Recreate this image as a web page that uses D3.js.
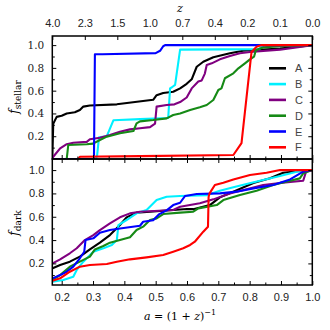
<!DOCTYPE html>
<html><head><meta charset="utf-8">
<script src="https://cdn.jsdelivr.net/npm/d3@7"></script>
<style>body{margin:0;background:#fff}svg{display:block}</style>
</head><body>
<svg id="c" width="330" height="330"></svg>
<script>
// ---- data ----
const seriesNames = ["A","B","C","D","E","F"];
const seriesColors = ["#000000","#00f0ff","#800080","#168a16","#0000ff","#ff0000"];
const xTicks = [0.2,0.3,0.4,0.5,0.6,0.7,0.8,0.9,1.0];
const zTickLabels = ["4.0","2.3","1.5","1.0","0.7","0.4","0.2","0.1","0.0"];
const yTicks = [0.2,0.4,0.6,0.8,1.0];

// stellar (top panel)
const aStellarA = [0.17,0.173,0.184,0.200,0.216,0.242,0.258,0.269,0.290,0.376,0.492,0.503,0.524,0.556,0.578,0.599,0.615,0.631,0.652,0.684,0.737,0.779,0.897,1.0];
const fStellarA = [0,0.31,0.37,0.38,0.40,0.41,0.43,0.46,0.47,0.48,0.52,0.56,0.58,0.59,0.62,0.66,0.70,0.81,0.854,0.893,0.928,0.95,0.97,1.0];
const aStellarB = [0.309,0.313,0.319,0.344,0.365,0.45,0.540,0.546,0.552,0.562,0.578,0.83,0.845,1.0];
const fStellarB = [0,0.03,0.19,0.20,0.34,0.35,0.36,0.62,0.63,0.65,0.96,0.965,1.0,1.0];
const aStellarC = [0.17,0.173,0.195,0.216,0.237,0.280,0.290,0.322,0.354,0.386,0.418,0.450,0.482,0.498,0.503,0.535,0.560,0.578,0.599,0.615,0.636,0.647,0.657,0.663,0.679,0.705,0.737,0.769,0.801,0.897,1.0];
const fStellarC = [0,0.02,0.094,0.13,0.143,0.15,0.173,0.187,0.21,0.24,0.26,0.27,0.28,0.31,0.46,0.474,0.48,0.50,0.54,0.62,0.68,0.69,0.75,0.825,0.84,0.875,0.904,0.928,0.94,0.96,1.0];
const aStellarD = [0.17,0.216,0.221,0.28,0.30,0.322,0.344,0.386,0.429,0.439,0.45,0.492,0.535,0.556,0.578,0.61,0.641,0.663,0.684,0.70,0.71,0.721,0.748,0.764,0.785,0.801,0.814,0.82,0.843,0.897,1.0];
const fStellarD = [0,0,0.123,0.13,0.135,0.167,0.196,0.226,0.246,0.313,0.33,0.342,0.357,0.386,0.40,0.43,0.454,0.474,0.518,0.606,0.62,0.709,0.752,0.796,0.84,0.875,0.898,0.957,0.98,0.99,1.0];
const aStellarE = [0.17,0.303,0.306,0.33,0.50,0.514,0.524,0.53,1.0];
const fStellarE = [0,0,0.92,0.92,0.93,0.95,0.99,1.0,1.0];
const aStellarF = [0.253,0.258,0.45,0.748,0.774,0.806,0.822,0.838,1.0];
const fStellarF = [0,0.02,0.025,0.035,0.14,0.94,0.985,1.0,1.0];

// dark (bottom panel)
const aDarkA = [0.171,0.195,0.226,0.258,0.29,0.322,0.354,0.386,0.407,0.439,0.482,0.556,0.60,0.62,0.673,0.705,0.748,0.812,0.865,0.907,0.95,1.0];
const fDarkA = [0.158,0.186,0.215,0.258,0.32,0.378,0.443,0.529,0.595,0.635,0.643,0.658,0.667,0.665,0.70,0.766,0.815,0.89,0.93,0.977,0.99,1.0];
const aDarkB = [0.171,0.205,0.237,0.248,0.269,0.301,0.333,0.36,0.376,0.381,0.407,0.439,0.471,0.503,0.535,0.578,0.663,0.705,0.748,0.79,0.843,0.897,0.95,1.0];
const fDarkB = [0.043,0.058,0.086,0.144,0.215,0.30,0.329,0.358,0.40,0.529,0.572,0.629,0.658,0.743,0.772,0.778,0.785,0.823,0.852,0.88,0.915,0.949,0.986,1.0];
const aDarkC = [0.171,0.195,0.226,0.248,0.274,0.301,0.322,0.354,0.386,0.418,0.45,0.556,0.578,0.641,0.684,0.737,0.79,0.843,0.897,0.971,0.98,1.0];
const fDarkC = [0.20,0.235,0.287,0.33,0.40,0.443,0.486,0.543,0.595,0.629,0.643,0.658,0.686,0.715,0.749,0.80,0.835,0.872,0.89,0.909,0.986,1.0];
const aDarkD = [0.171,0.195,0.226,0.258,0.29,0.306,0.333,0.354,0.386,0.418,0.439,0.46,0.482,0.503,0.524,0.578,0.62,0.636,0.695,0.716,0.769,0.822,0.875,0.939,0.96,0.971,1.0];
const fDarkD = [0.058,0.10,0.172,0.215,0.258,0.32,0.349,0.378,0.40,0.424,0.486,0.515,0.572,0.586,0.623,0.635,0.643,0.672,0.70,0.743,0.786,0.823,0.872,0.915,0.929,0.972,1.0];
const aDarkE = [0.171,0.195,0.216,0.237,0.258,0.272,0.276,0.301,0.322,0.354,0.386,0.45,0.46,0.492,0.51,0.535,0.556,0.578,0.594,0.631,0.705,0.758,0.812,0.875,0.929,0.971,1.0];
const fDarkE = [0.072,0.10,0.129,0.172,0.244,0.30,0.40,0.415,0.463,0.486,0.50,0.523,0.557,0.57,0.62,0.655,0.70,0.72,0.778,0.795,0.80,0.815,0.843,0.872,0.92,0.986,1.0];
const aDarkF = [0.171,0.195,0.226,0.258,0.29,0.344,0.376,0.418,0.471,0.524,0.556,0.588,0.61,0.625,0.652,0.667,0.669,0.672,0.689,0.716,0.748,0.801,0.854,0.897,1.0];
const fDarkF = [0.052,0.072,0.129,0.172,0.186,0.195,0.215,0.235,0.252,0.272,0.30,0.33,0.358,0.386,0.472,0.515,0.772,0.80,0.872,0.892,0.92,0.958,0.977,1.0,1.0];

const stellarA = [aStellarA,aStellarB,aStellarC,aStellarD,aStellarE,aStellarF];
const stellarF = [fStellarA,fStellarB,fStellarC,fStellarD,fStellarE,fStellarF];
const darkA = [aDarkA,aDarkB,aDarkC,aDarkD,aDarkE,aDarkF];
const darkF = [fDarkA,fDarkB,fDarkC,fDarkD,fDarkE,fDarkF];

// ---- layout ----
const L = 52.3, R = 312.3, T1 = 36, B1 = 159, T2 = 159, B2 = 285;
const xMin = 0.17;
const x = d3.scaleLinear().domain([xMin, 1.0]).range([L, R]);
const yTop = d3.scaleLinear().domain([0, 1.08]).range([B1, T1]);
const yBot = d3.scaleLinear().domain([0.015, 1.095]).range([B2, T2]);

const svg = d3.select("#c");
const sans = "'Liberation Sans', Arial, sans-serif";
const serif = "'DejaVu Serif', 'Liberation Serif', serif";

const defs = svg.append("defs");
defs.append("clipPath").attr("id","cp1").append("rect").attr("x",L).attr("y",T1).attr("width",R-L).attr("height",B1-T1);
defs.append("clipPath").attr("id","cp2").append("rect").attr("x",L).attr("y",T2).attr("width",R-L).attr("height",B2-T2);

function drawLines(cp, ys, aArr, fArr){
  const g = svg.append("g").attr("clip-path", `url(#${cp})`);
  const line = d3.line().x(d=>x(d[0])).y(d=>ys(d[1]));
  // draw in order A..F so later ones on top
  aArr.forEach((aa,i)=>{
    const pts = aa.map((v,j)=>[v, fArr[i][j]]);
    g.append("path").attr("d", line(pts)).attr("fill","none")
      .attr("stroke", seriesColors[i]).attr("stroke-width", 2.1)
      .attr("stroke-linejoin","round");
  });
}
drawLines("cp1", yTop, stellarA, stellarF);
drawLines("cp2", yBot, darkA, darkF);

// ---- axes ----
const minorX = d3.range(0.2, 1.0001, 0.05).filter(v => Math.abs(v*10 - Math.round(v*10)) > 0.01);
const yMinor = [0.1,0.3,0.5,0.7,0.9];
function styleAxis(g, font, size){
  g.select(".domain").remove();
  g.selectAll("line").attr("stroke","#000").attr("stroke-width",1);
  g.selectAll("text").attr("font-family", font).attr("font-size", size).attr("fill","#222");
}
// bottom x axis (labels)
styleAxis(svg.append("g").attr("transform",`translate(0,${B2})`)
  .call(d3.axisBottom(x).tickValues(xTicks).tickFormat(d3.format(".1f")).tickSize(-4).tickPadding(8)), sans, 11);
svg.append("g").attr("transform",`translate(0,${B2})`)
  .call(d3.axisBottom(x).tickValues(minorX).tickFormat("").tickSize(-2.5)).call(g=>styleAxis(g,sans,11));
// shared edge (y=159): ticks up into top panel and down into bottom panel
svg.append("g").attr("transform",`translate(0,${B1})`)
  .call(d3.axisTop(x).tickValues(xTicks).tickFormat("").tickSize(4)).call(g=>styleAxis(g,sans,11));
svg.append("g").attr("transform",`translate(0,${B1})`)
  .call(d3.axisTop(x).tickValues(minorX).tickFormat("").tickSize(2.5)).call(g=>styleAxis(g,sans,11));
svg.append("g").attr("transform",`translate(0,${T2})`)
  .call(d3.axisBottom(x).tickValues(xTicks).tickFormat("").tickSize(4)).call(g=>styleAxis(g,sans,11));
svg.append("g").attr("transform",`translate(0,${T2})`)
  .call(d3.axisBottom(x).tickValues(minorX).tickFormat("").tickSize(2.5)).call(g=>styleAxis(g,sans,11));
// top z axis: evenly spaced positions over the axis
const zPos = zTickLabels.map((_,i)=> xMin + i*(1.0-xMin)/(zTickLabels.length-1));
styleAxis(svg.append("g").attr("transform",`translate(0,${T1})`)
  .call(d3.axisTop(x).tickValues(zPos).tickFormat((d,i)=>zTickLabels[i]).tickSize(-4).tickPadding(9)), sans, 11);

// y axes
styleAxis(svg.append("g").attr("transform",`translate(${L},0)`)
  .call(d3.axisLeft(yTop).tickValues(yTicks).tickFormat(d3.format(".1f")).tickSize(-4).tickPadding(8)), serif, 10.5);
styleAxis(svg.append("g").attr("transform",`translate(${L},0)`)
  .call(d3.axisLeft(yBot).tickValues(yTicks).tickFormat(d3.format(".1f")).tickSize(-4).tickPadding(8)), sans, 11);
[[yTop],[yBot]].forEach(([ys])=>{
  svg.append("g").attr("transform",`translate(${L},0)`).call(d3.axisLeft(ys).tickValues(yMinor).tickFormat("").tickSize(-2.5)).call(g=>styleAxis(g,sans,11));
  svg.append("g").attr("transform",`translate(${R},0)`).call(d3.axisRight(ys).tickValues(yTicks).tickFormat("").tickSize(-4)).call(g=>styleAxis(g,sans,11));
  svg.append("g").attr("transform",`translate(${R},0)`).call(d3.axisRight(ys).tickValues(yMinor).tickFormat("").tickSize(-2.5)).call(g=>styleAxis(g,sans,11));
});

// frames
svg.append("rect").attr("x",L).attr("y",T1).attr("width",R-L).attr("height",B1-T1).attr("fill","none").attr("stroke","#000").attr("stroke-width",1.5);
svg.append("rect").attr("x",L).attr("y",T2).attr("width",R-L).attr("height",B2-T2).attr("fill","none").attr("stroke","#000").attr("stroke-width",1.5);

// legend
const legG = svg.append("g");
seriesNames.forEach((n,i)=>{
  const yy = 68.3 + i*15.8;
  legG.append("line").attr("x1",269).attr("x2",286).attr("y1",yy).attr("y2",yy)
    .attr("stroke",seriesColors[i]).attr("stroke-width",2.6);
  legG.append("text").attr("x",295).attr("y",yy+4).text(n)
    .attr("font-family",sans).attr("font-size",11).attr("fill","#444");
});

// labels
svg.append("text").attr("x",180).attr("y",12).attr("text-anchor","middle")
  .attr("font-family",serif).attr("font-style","italic").attr("font-size",11).text("z");
function ylab(yc, sub){
  const t = svg.append("text").attr("transform",`translate(18,${yc}) rotate(-90)`).attr("text-anchor","middle")
    .attr("font-family",serif).attr("font-size",12);
  t.append("tspan").attr("font-style","italic").text("f");
  t.append("tspan").attr("font-size",9).attr("dy",3).text(sub);
}
ylab(97, "stellar");
ylab(223, "dark");
const xl = svg.append("text").attr("x",180).attr("y",320).attr("text-anchor","middle")
  .attr("font-family",serif).attr("font-size",11);
xl.append("tspan").attr("font-style","italic").text("a");
xl.append("tspan").text(" = (1 + ");
xl.append("tspan").attr("font-style","italic").text("z");
xl.append("tspan").text(")");
xl.append("tspan").attr("font-size",8).attr("dy",-5).text("−1");
</script>
</body></html>
